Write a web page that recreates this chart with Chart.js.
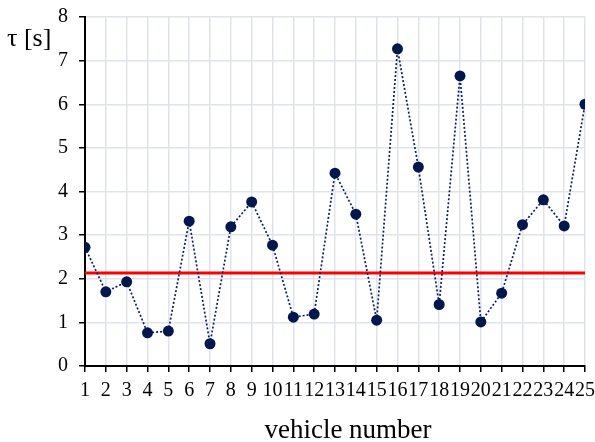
<!DOCTYPE html>
<html>
<head>
<meta charset="utf-8">
<script src="https://cdn.jsdelivr.net/npm/chart.js@4.4.0/dist/chart.umd.min.js"></script>
<style>
  html, body { margin: 0; padding: 0; background: #fff; }
  #wrap { width: 595px; height: 442px; }
</style>
</head>
<body>
<div id="wrap"><canvas id="tauChart" width="595" height="442"></canvas></div>
<script>
// vehicle numbers and measured tau per vehicle
const vehicles = [1, 2, 3, 4, 5, 6, 7, 8, 9, 10, 11, 12, 13, 14, 15, 16, 17, 18, 19, 20, 21, 22, 23, 24, 25];
const tauValues = [2.72, 1.70, 1.93, 0.76, 0.80, 3.32, 0.51, 3.19, 3.76, 2.77, 1.12, 1.19, 4.42, 3.48, 1.05,
                   7.27, 4.56, 1.41, 6.65, 1.01, 1.67, 3.24, 3.81, 3.21, 6.00];
const threshold = 2.13;
const yTicks = [0, 1, 2, 3, 4, 5, 6, 7, 8];

const serif = "'Liberation Serif', 'Times New Roman', serif";

// axis captions: tau label sits flat above the y ticks, x caption under the labels
const axisCaptions = {
  id: 'axisCaptions',
  afterDraw(chart) {
    const ctx = chart.ctx;
    ctx.save();
    ctx.fillStyle = '#000';
    ctx.textBaseline = 'alphabetic';
    ctx.font = '26px ' + serif;
    ctx.textAlign = 'left';
    ctx.fillText('\u03c4 [s]', 7, 46);
    ctx.font = '27px ' + serif;
    ctx.textAlign = 'center';
    ctx.fillText('vehicle number', 348, 438);
    ctx.restore();
  }
};

// keep the plot box fixed regardless of label overhang
function noOverhang(scale) {
  scale.paddingTop = 0;
  scale.paddingBottom = 0;
  scale.paddingLeft = 0;
  scale.paddingRight = 0;
}

const ctx = document.getElementById('tauChart').getContext('2d');
new Chart(ctx, {
  type: 'line',
  data: {
    datasets: [
      {
        label: 'tau',
        data: vehicles.map((v, i) => ({ x: v, y: tauValues[i] })),
        borderColor: '#0b2060',
        borderWidth: 1.7,
        borderDash: [2, 2],
        pointRadius: 5.5,
        pointBackgroundColor: '#03174f',
        pointBorderColor: '#03174f',
        pointBorderWidth: 0,
        tension: 0,
        order: 1
      },
      {
        label: 'threshold',
        data: [{ x: vehicles[0], y: threshold }, { x: vehicles[vehicles.length - 1], y: threshold }],
        borderColor: '#ff0000',
        borderWidth: 3,
        pointRadius: 0,
        order: 2
      }
    ]
  },
  options: {
    responsive: false,
    animation: false,
    layout: { padding: { left: 0, right: 10, top: 17, bottom: 0 } },
    plugins: {
      legend: { display: false },
      tooltip: { enabled: false }
    },
    scales: {
      x: {
        type: 'linear',
        min: 1,
        max: 25,
        afterBuildTicks(scale) {
          scale.ticks = vehicles.map(v => ({ value: v }));
        },
        afterFit(scale) {
          scale.height = 76;
          noOverhang(scale);
        },
        border: { color: '#000', width: 2 },
        grid: { color: '#dfe3ea', lineWidth: 1.5, tickColor: '#000', tickLength: 6 },
        ticks: {
          color: '#000',
          font: { family: serif, size: 20 },
          padding: 7,
          maxRotation: 0,
          autoSkip: false
        }
      },
      y: {
        type: 'linear',
        min: 0,
        max: 8,
        afterBuildTicks(scale) {
          scale.ticks = yTicks.map(v => ({ value: v }));
        },
        afterFit(scale) {
          scale.width = 85;
          noOverhang(scale);
        },
        border: { color: '#000', width: 2 },
        grid: { color: '#dfe3ea', lineWidth: 1.5, tickColor: '#000', tickLength: 6 },
        ticks: {
          color: '#000',
          font: { family: serif, size: 20 },
          padding: 11
        }
      }
    }
  },
  plugins: [axisCaptions]
});
</script>
</body>
</html>
